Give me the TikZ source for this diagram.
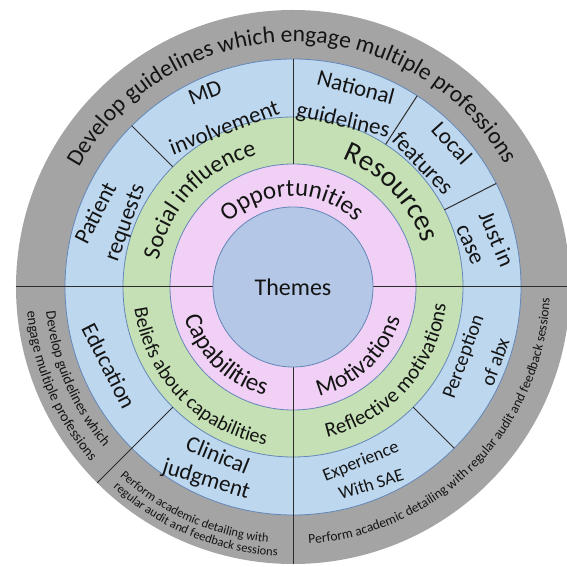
\documentclass[tikz,border=0pt]{standalone}
\usepackage{fontspec}
\setmainfont{Carlito}
\usetikzlibrary{decorations.text}
\definecolor{ringgray}{RGB}{164,164,164}
\definecolor{ringblue}{RGB}{189,215,238}
\definecolor{ringgreen}{RGB}{197,224,180}
\definecolor{ringpink}{RGB}{241,208,245}
\definecolor{core}{RGB}{180,199,231}
\definecolor{edgeblue}{RGB}{100,135,185}
\definecolor{txt}{RGB}{20,20,20}
\definecolor{divider}{RGB}{45,45,45}
\newcommand\fTop{\fontsize{23.5}{27}\selectfont}
\newcommand\fBR{\fontsize{13.5}{15}\selectfont}
\newcommand\fBL{\fontsize{12.5}{14}\selectfont}
\newcommand\fLG{\fontsize{14.5}{16}\selectfont}
\newcommand\fSoc{\fontsize{24}{28}\selectfont}
\newcommand\fRes{\fontsize{29}{32}\selectfont}
\newcommand\fBel{\fontsize{20}{24}\selectfont}
\newcommand\fRef{\fontsize{21}{24}\selectfont}
\newcommand\fPink{\fontsize{25}{28}\selectfont}
\newcommand\fMot{\fontsize{24}{28}\selectfont}
% #1 radius, #2 start angle, #3 end angle, #4 font, #5 text
\newcommand\arctext[5]{%
  \path[decorate,decoration={text along path,text align=center,text color=txt,
    text={|#4|#5}}] (#2:#1pt) arc[start angle=#2,end angle=#3,radius=#1pt];}
\tikzset{
  blab/.style={font=\fontsize{23}{26}\selectfont, text=txt, inner sep=0pt},
  slab/.style={font=\fontsize{18}{21}\selectfont, text=txt, inner sep=0pt},
  plab/.style={font=\fontsize{20}{23}\selectfont, text=txt, inner sep=0pt},
  ringedge/.style={draw=edgeblue, line width=0.8pt},
  divline/.style={draw=divider, line width=1pt}
}
\begin{document}
\begin{tikzpicture}
\useasboundingbox (-293pt,-280pt) rectangle (274pt,287pt);
% rings
\fill[ringgray] (0,0) circle[radius=277pt];
\filldraw[fill=ringblue, ringedge] (0,0) circle[radius=228pt];
\filldraw[fill=ringgreen, ringedge] (0,0) circle[radius=170pt];
\filldraw[fill=ringpink, ringedge] (0,0) circle[radius=123pt];
% dividers
\draw[divline] (90:123pt) -- (90:228pt);
\draw[divline] (180:80pt) -- (180:277pt);
\draw[divline] (0:80pt) -- (0:277pt);
\draw[divline] (270:80pt) -- (270:277pt);
\draw[divline] (135:170pt) -- (135:228pt);
\draw[divline] (57:170pt) -- (57:228pt);
\draw[divline] (27:170pt) -- (27:228pt);
\draw[divline] (225:170pt) -- (225:277pt);
\draw[divline] (315:170pt) -- (315:228pt);
% core
\node[circle, minimum size=160pt, inner sep=0pt, fill=core, ringedge,
      font=\fontsize{24}{28}\selectfont, text=txt] (themes) at (0,0) {Themes};
% gray band texts
\arctext{245}{165.5}{15.5}{\fTop}{Develop guidelines which engage multiple professions}
\arctext{257}{-92}{3}{\fBR}{Perform academic detailing with regular audit and feedback sessions}
\arctext{256.5}{206}{286}{\fBL}{Perform academic detailing with}
\arctext{269.5}{207.4}{287.4}{\fBL}{regular audit and feedback sessions}
\arctext{248}{163}{243}{\fLG}{Develop guidelines which}
\arctext{267}{163}{243}{\fLG}{engage multiple professions}
% green ring texts
\arctext{137}{197}{77}{\fSoc}{Social influence}
\arctext{137}{103.8}{-16.2}{\fRes}{Resources}
\arctext{160}{164}{284}{\fBel}{Beliefs about capabilities}
\arctext{154}{-101.8}{18.2}{\fRef}{Reflective motivations}
% pink ring texts
\arctext{91}{150.5}{30.5}{\fPink}{Opportunities}
\arctext{112}{165.5}{285.5}{\fPink}{Capabilities}
\arctext{112}{-106.6}{13.4}{\fMot}{Motivations}
% blue ring labels
\node[blab, rotate=21] (md) at (-88pt,194pt) {MD};
\node[blab, rotate=21] (inv) at (-69pt,160pt) {involvement};
\node[blab, rotate=-15] (nat) at (63pt,200pt) {National};
\node[blab, rotate=-13] (gl) at (50pt,166pt) {guidelines};
\node[blab, rotate=-48] (loc) at (159pt,144pt) {Local};
\node[blab, rotate=-46] (feat) at (130pt,124pt) {features};
\node[blab, rotate=-67] (just) at (204pt,48pt) {Just in};
\node[blab, rotate=-66] (case) at (176pt,42pt) {case};
\node[blab, rotate=63] (pat) at (-198pt,74pt) {Patient};
\node[blab, rotate=70] (req) at (-167pt,64pt) {requests};
\node[blab, rotate=-63] (edu) at (-184pt,-79pt) {Education};
\node[blab, rotate=-22] (clin) at (-75pt,-168pt) {Clinical};
\node[blab, rotate=-17] (judg) at (-87pt,-193pt) {judgment};
\node[slab, rotate=22] (exp) at (68pt,-175pt) {Experience};
\node[slab, rotate=17] (sae) at (78pt,-197pt) {With SAE};
\node[plab, rotate=70] (perc) at (171pt,-70pt) {Perception};
\node[plab, rotate=70] (abx) at (202pt,-75pt) {of abx};
\end{tikzpicture}
\end{document}
